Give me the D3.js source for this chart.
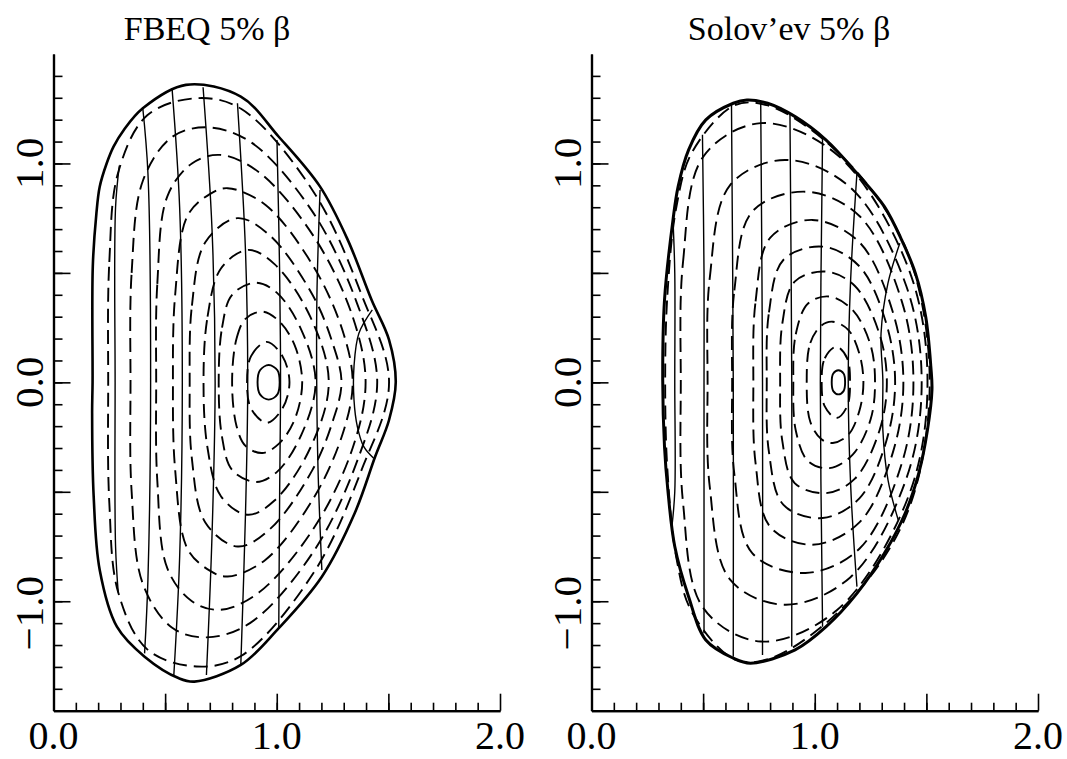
<!DOCTYPE html>
<html>
<head>
<meta charset="utf-8">
<script src="https://cdn.jsdelivr.net/npm/d3@7"></script>
<style>
  body { margin: 0; background: #fff; }
  svg { display: block; }
  text { font-family: "Liberation Serif", "Times New Roman", serif; fill: #000; }
</style>
</head>
<body>
<svg id="chart" width="1067" height="759"></svg>
<script>
// panel titles and tick labels
var titles = ["FBEQ 5% \u03b2", "Solov\u2019ev 5% \u03b2"];
var xLabelValues = [0, 1, 2];
var yLabelValues = [-1, 0, 1];
var xMajorTicks = [0.5, 1, 1.5, 2];
var yMajorTicks = [-1, -0.5, 0, 0.5, 1];

// FBEQ: plasma boundary (R, Z)
var fbeqBoundary = [
  [0.175, 0.0], [0.176, 0.53], [0.192, 0.77], [0.207, 0.894], [0.238, 1.0],
  [0.269, 1.077], [0.315, 1.153], [0.40, 1.252], [0.593, 1.359], [0.839, 1.305],
  [1.009, 1.122], [1.194, 0.894], [1.318, 0.651], [1.425, 0.376], [1.503, 0.194],
  [1.533, 0.0], [1.503, -0.172], [1.441, -0.339], [1.349, -0.598], [1.202, -0.888],
  [1.009, -1.123], [0.839, -1.291], [0.631, -1.367], [0.562, -1.352], [0.408, -1.253],
  [0.284, -1.116], [0.207, -0.857], [0.18, -0.522], [0.173, -0.141]
];

// FBEQ: flux surfaces, upper half from inboard to outboard midplane
var fbeqSurfaces = [
  [[0.914, 0], [0.925, 0.055], [0.964, 0.079], [1.003, 0.055], [1.013, 0]],
  [[0.867, 0], [0.885, 0.12], [0.955, 0.185], [1.025, 0.12], [1.057, 0]],
  [[0.80, 0], [0.82, 0.20], [0.86, 0.29], [0.935, 0.323], [1.01, 0.28], [1.08, 0.17], [1.114, 0]],
  [[0.74, 0], [0.755, 0.25], [0.80, 0.40], [0.905, 0.455], [1.0, 0.41], [1.11, 0.24], [1.174, 0]],
  [[0.672, 0], [0.69, 0.30], [0.75, 0.52], [0.87, 0.605], [0.99, 0.54], [1.15, 0.30], [1.233, 0]],
  [[0.61, 0], [0.62, 0.35], [0.68, 0.64], [0.824, 0.75], [0.97, 0.67], [1.16, 0.40], [1.25, 0.18], [1.29, 0]],
  [[0.535, 0], [0.545, 0.40], [0.60, 0.76], [0.70, 0.86], [0.78, 0.887], [0.95, 0.81], [1.17, 0.52], [1.30, 0.22], [1.34, 0]],
  [[0.46, 0], [0.465, 0.45], [0.51, 0.85], [0.62, 1.00], [0.747, 1.039], [0.92, 0.96], [1.17, 0.66], [1.34, 0.30], [1.398, 0]],
  [[0.345, 0], [0.35, 0.50], [0.40, 0.92], [0.53, 1.12], [0.685, 1.165], [0.88, 1.10], [1.16, 0.78], [1.36, 0.36], [1.45, 0]],
  [[0.245, 0], [0.25, 0.55], [0.29, 0.96], [0.42, 1.22], [0.64, 1.298], [0.84, 1.25], [1.165, 0.87], [1.38, 0.40], [1.503, 0]]
];

// FBEQ: near-vertical solid chords, top to bottom
var fbeqChords = [
  [[0.295, 0.99], [0.278, 0.80], [0.276, 0.0], [0.278, -0.75], [0.29, -0.96]],
  [[0.40, 1.252], [0.423, 0.955], [0.435, 0.0], [0.423, -0.9], [0.408, -1.238]],
  [[0.531, 1.343], [0.565, 0.8], [0.577, 0.0], [0.565, -0.8], [0.539, -1.337]],
  [[0.67, 1.348], [0.71, 0.7], [0.724, 0.0], [0.71, -0.7], [0.685, -1.337]],
  [[0.824, 1.275], [0.86, 0.6], [0.87, 0.0], [0.86, -0.6], [0.839, -1.291]],
  [[1.001, 1.107], [1.013, 0.5], [1.017, 0.0], [1.013, -0.5], [1.009, -1.123]],
  [[1.194, 0.879], [1.18, 0.4], [1.179, 0.0], [1.185, -0.4], [1.202, -0.857]],
  [[1.428, 0.331], [1.368, 0.224], [1.346, 0.072], [1.346, -0.08], [1.361, -0.202], [1.39, -0.294], [1.434, -0.347]]
];

// Solov'ev: plasma boundary
var solBoundary = [
  [0.319, 0.011], [0.327, 0.376], [0.365, 0.742], [0.388, 0.894], [0.435, 1.062],
  [0.512, 1.199], [0.635, 1.275], [0.696, 1.29], [0.789, 1.275], [0.912, 1.214],
  [1.051, 1.107], [1.189, 0.955], [1.312, 0.803], [1.389, 0.651], [1.451, 0.498],
  [1.497, 0.30], [1.52, 0.072], [1.525, -0.035], [1.505, -0.217], [1.466, -0.415],
  [1.405, -0.598], [1.312, -0.781], [1.189, -0.964], [1.051, -1.116], [0.912, -1.222],
  [0.712, -1.283], [0.635, -1.26], [0.512, -1.177], [0.435, -0.979], [0.373, -0.75],
  [0.342, -0.492], [0.327, -0.294]
];

// Solov'ev: flux surfaces, upper half
var solSurfaces = [
  [[1.076, 0], [1.083, 0.04], [1.106, 0.055], [1.129, 0.04], [1.136, 0]],
  [[1.031, 0], [1.045, 0.11], [1.097, 0.163], [1.145, 0.11], [1.158, 0]],
  [[0.964, 0], [0.98, 0.18], [1.03, 0.26], [1.081, 0.277], [1.15, 0.24], [1.2, 0.13], [1.218, 0]],
  [[0.904, 0], [0.915, 0.22], [0.97, 0.36], [1.066, 0.392], [1.17, 0.33], [1.25, 0.17], [1.27, 0]],
  [[0.845, 0], [0.855, 0.27], [0.91, 0.46], [1.051, 0.506], [1.18, 0.44], [1.29, 0.22], [1.323, 0]],
  [[0.785, 0], [0.795, 0.32], [0.86, 0.56], [1.035, 0.62], [1.2, 0.53], [1.32, 0.27], [1.36, 0]],
  [[0.725, 0], [0.735, 0.37], [0.80, 0.66], [0.989, 0.742], [1.2, 0.64], [1.35, 0.32], [1.397, 0]],
  [[0.63, 0], [0.64, 0.42], [0.72, 0.78], [0.958, 0.871], [1.2, 0.76], [1.39, 0.37], [1.442, 0]],
  [[0.52, 0], [0.53, 0.48], [0.62, 0.90], [0.866, 1.016], [1.16, 0.89], [1.41, 0.44], [1.479, 0]],
  [[0.40, 0], [0.41, 0.55], [0.50, 1.03], [0.758, 1.184], [1.1, 1.04], [1.42, 0.52], [1.505, 0]],
  [[0.33, 0], [0.34, 0.40], [0.38, 0.80], [0.45, 1.05], [0.64, 1.265], [0.79, 1.265], [1.05, 1.10], [1.31, 0.80], [1.45, 0.49], [1.515, 0]]
];

// Solov'ev: near-vertical solid chords
var solChords = [
  [[0.365, 0.742], [0.373, 0.5], [0.373, 0.0], [0.373, -0.5], [0.36, -0.66]],
  [[0.497, 1.131], [0.504, 0.5], [0.504, 0.0], [0.504, -0.6], [0.504, -1.146]],
  [[0.627, 1.275], [0.635, 0.0], [0.635, -1.253]],
  [[0.758, 1.275], [0.766, 0.0], [0.766, -1.245]],
  [[0.889, 1.222], [0.897, 0.0], [0.897, -1.207]],
  [[1.035, 1.122], [1.025, 0.0], [1.035, -1.116]],
  [[1.189, 0.955], [1.16, 0.45], [1.15, 0.0], [1.16, -0.45], [1.189, -0.933]],
  [[1.381, 0.635], [1.328, 0.453], [1.297, 0.224], [1.305, 0.011], [1.305, -0.217], [1.328, -0.446], [1.374, -0.629]]
];

var panels = [
  { title: titles[0], boundary: fbeqBoundary, surfaces: fbeqSurfaces, chords: fbeqChords,
    left: 53.5, right: 500, titleX: 207, boundaryWidth: 2.6 },
  { title: titles[1], boundary: solBoundary, surfaces: solSurfaces, chords: solChords,
    left: 591.5, right: 1038, titleX: 789, boundaryWidth: 3 }
];

var svg = d3.select("#chart");

function closeSurface(upper) {
  var lower = upper.slice(1, -1).reverse().map(function (p) {
    return [p[0], -p[1]];
  });
  return upper.concat(lower);
}

panels.forEach(function (p) {
  var x = d3.scaleLinear().domain([0, 2]).range([p.left, p.right]);
  var y = d3.scaleLinear().domain([-1.5, 1.5]).range([710.7, 54]);
  var g = svg.append("g");

  var closedLine = d3
    .line()
    .x(function (d) { return x(d[0]); })
    .y(function (d) { return y(d[1]); })
    .curve(d3.curveCatmullRomClosed.alpha(0.5));
  var openLine = d3
    .line()
    .x(function (d) { return x(d[0]); })
    .y(function (d) { return y(d[1]); })
    .curve(d3.curveCatmullRom.alpha(0.5));

  // dashed flux surfaces
  g.selectAll("path.surface")
    .data(p.surfaces)
    .enter()
    .append("path")
    .attr("class", "surface")
    .attr("d", function (d) { return closedLine(closeSurface(d)); })
    .attr("fill", "none")
    .attr("stroke", "#000")
    .attr("stroke-width", 1.9)
    .attr("stroke-dasharray", function (d, i) { return i === 0 ? null : "14,7"; });

  // solid chords
  g.selectAll("path.chord")
    .data(p.chords)
    .enter()
    .append("path")
    .attr("class", "chord")
    .attr("d", openLine)
    .attr("fill", "none")
    .attr("stroke", "#000")
    .attr("stroke-width", 1.4);

  // boundary
  g.append("path")
    .attr("d", closedLine(p.boundary))
    .attr("fill", "none")
    .attr("stroke", "#000")
    .attr("stroke-width", p.boundaryWidth);

  // x axis: minor + major ticks point up
  var xAxisG = g.append("g").attr("transform", "translate(0," + y(-1.5) + ")");
  xAxisG.append("g")
    .call(d3.axisBottom(x).tickValues(d3.range(1, 20).map(function (i) { return i / 10; }))
      .tickSize(-8).tickSizeOuter(0).tickFormat(""));
  xAxisG.append("g")
    .call(d3.axisBottom(x).tickValues(xMajorTicks).tickSize(-17).tickSizeOuter(0).tickFormat(""));
  xAxisG.selectAll("path.domain").attr("stroke-width", 2.2);
  xAxisG.selectAll(".tick line").attr("stroke-width", 1.6);

  // y axis: ticks point right
  var yAxisG = g.append("g").attr("transform", "translate(" + x(0) + ",0)");
  yAxisG.append("g")
    .call(d3.axisLeft(y).tickValues(d3.range(-14, 15).map(function (i) { return i / 10; }))
      .tickSize(-9).tickSizeOuter(0).tickFormat(""));
  yAxisG.append("g")
    .call(d3.axisLeft(y).tickValues(yMajorTicks).tickSize(-17).tickSizeOuter(0).tickFormat(""));
  yAxisG.selectAll("path.domain").attr("stroke-width", 2.2);
  yAxisG.selectAll(".tick line").attr("stroke-width", 1.6);

  // tick labels
  g.selectAll("text.xlab")
    .data(xLabelValues)
    .enter()
    .append("text")
    .attr("class", "xlab")
    .attr("x", function (d) { return x(d); })
    .attr("y", 749)
    .attr("text-anchor", "middle")
    .attr("font-size", 40)
    .text(function (d) { return d3.format(".1f")(d); });

  g.selectAll("text.ylab")
    .data(yLabelValues)
    .enter()
    .append("text")
    .attr("class", "ylab")
    .attr("transform", function (d) {
      return "translate(" + (x(0) - 11) + "," + y(d) + ") rotate(-90)";
    })
    .attr("dx", function (d) { return d < 0 ? -12 : 0; })
    .attr("text-anchor", "middle")
    .attr("font-size", 41)
    .text(function (d) { return d3.format(".1f")(d).replace("-", "\u2212"); });

  // title
  g.append("text")
    .attr("x", p.titleX)
    .attr("y", 39.5)
    .attr("text-anchor", "middle")
    .attr("font-size", 34)
    .text(p.title);
});
</script>
</body>
</html>
